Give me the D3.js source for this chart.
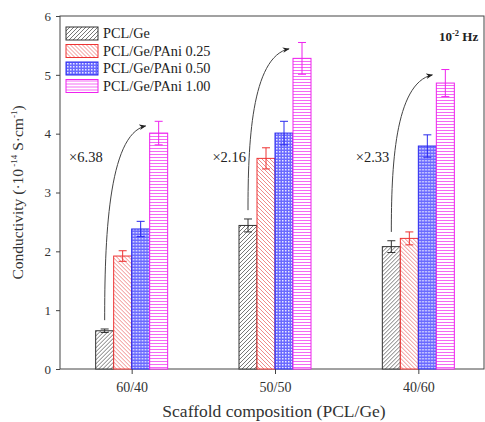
<!DOCTYPE html>
<html>
<head>
<meta charset="utf-8">
<script src="https://cdn.jsdelivr.net/npm/d3@7"></script>
<style>
  body { margin: 0; background: #fff; }
  svg text { font-family: "Liberation Serif", "Times New Roman", serif; }
</style>
</head>
<body>
<svg width="485" height="422"></svg>
<script>
// Data
const groups = ["60/40", "50/50", "40/60"];
const series = ["PCL/Ge", "PCL/Ge/PAni 0.25", "PCL/Ge/PAni 0.50", "PCL/Ge/PAni 1.00"];
const values = [
	[0.65, 1.92, 2.38, 4.01],
	[2.44, 3.58, 4.01, 5.28],
	[2.08, 2.22, 3.79, 4.86]
];
const errors = [
	[0.03, 0.09, 0.13, 0.20],
	[0.11, 0.18, 0.20, 0.27],
	[0.10, 0.11, 0.19, 0.23]
];
const folds = ["×6.38", "×2.16", "×2.33"];
const yTicks = [0, 1, 2, 3, 4, 5, 6];

const svgWidth = 485;
const svgHeight = 422;
const margins = {top: 16, right: 1, bottom: 53, left: 60};

const colors = ["#333333", "#ee3333", "#2a2aee", "#ee22ee"];
const fills = ["url(#p0)", "url(#p1)", "url(#p2)", "url(#p3)"];

const chart = d3.select("svg");

// Patterns
const defs = chart.append("defs");
const p0 = defs.append("pattern").attr("id", "p0").attr("patternUnits", "userSpaceOnUse")
	.attr("width", 4).attr("height", 4);
p0.append("rect").attr("width", 4).attr("height", 4).attr("fill", "#fff");
p0.append("path").attr("d", "M-1,1 l2,-2 M0,4 l4,-4 M3,5 l2,-2")
	.attr("stroke", "#777").attr("stroke-width", 1);

const p1 = defs.append("pattern").attr("id", "p1").attr("patternUnits", "userSpaceOnUse")
	.attr("width", 4).attr("height", 4);
p1.append("rect").attr("width", 4).attr("height", 4).attr("fill", "#fff");
p1.append("path").attr("d", "M-1,3 l2,2 M0,0 l4,4 M3,-1 l2,2")
	.attr("stroke", "#f08a8a").attr("stroke-width", 1);

const p2 = defs.append("pattern").attr("id", "p2").attr("patternUnits", "userSpaceOnUse")
	.attr("width", 3).attr("height", 3);
p2.append("rect").attr("width", 3).attr("height", 3).attr("fill", "#6a6aff");
p2.append("rect").attr("x", 1).attr("y", 1).attr("width", 1.5).attr("height", 1.5).attr("fill", "#e8e8ff");

const p3 = defs.append("pattern").attr("id", "p3").attr("patternUnits", "userSpaceOnUse")
	.attr("width", 4).attr("height", 3);
p3.append("rect").attr("width", 4).attr("height", 3).attr("fill", "#fff");
p3.append("path").attr("d", "M0,1.5 h4").attr("stroke", "#f46af4").attr("stroke-width", 1);

defs.append("marker").attr("id", "arrow")
	.attr("viewBox", "0 0 10 10").attr("refX", 9).attr("refY", 5)
	.attr("markerWidth", 7).attr("markerHeight", 7)
	.attr("markerUnits", "userSpaceOnUse")
	.attr("orient", "auto")
	.append("path").attr("d", "M0,1 L10,5 L0,9 L3,5 Z").attr("fill", "#222");

// Scales
const scaleX = d3.scalePoint()
	.domain(groups)
	.range([margins.left, 490])
	.padding(0.5);

const scaleSub = d3.scaleBand()
	.domain(series)
	.range([-36, 36]);

const scaleY = d3.scaleLinear()
	.domain([0, 6])
	.range([svgHeight - margins.bottom, margins.top]);

// Frame
chart.append("rect")
	.attr("x", margins.left).attr("y", margins.top)
	.attr("width", svgWidth - margins.right - margins.left)
	.attr("height", scaleY(0) - margins.top)
	.attr("fill", "none").attr("stroke", "#444").attr("stroke-width", 1);

// Bars
const gGroups = chart.append("g").selectAll("g")
	.data(groups)
	.join("g")
	.attr("transform", d => `translate(${scaleX(d)},0)`);

gGroups.each(function(g, gi) {
	const sel = d3.select(this);
	series.forEach((s, si) => {
		const v = values[gi][si];
		const e = errors[gi][si];
		const x = scaleSub(s);
		const w = scaleSub.bandwidth();
		sel.append("rect")
			.attr("x", x).attr("y", scaleY(v))
			.attr("width", w).attr("height", scaleY(0) - scaleY(v))
			.attr("fill", fills[si]).attr("stroke", colors[si]).attr("stroke-width", 1);
		const cx = x + w / 2;
		sel.append("path")
			.attr("d", `M${cx},${scaleY(v - e)}V${scaleY(v + e)}M${cx - 4},${scaleY(v + e)}h8M${cx - 4},${scaleY(v - e)}h8`)
			.attr("stroke", colors[si]).attr("stroke-width", 1).attr("fill", "none");
	});

	// Arrow from first to last bar
	const sx = scaleSub(series[0]) + scaleSub.bandwidth() / 2;
	const sy = scaleY(values[gi][0] + errors[gi][0] + 0.15);
	const ex = scaleSub(series[3]) - 4;
	const ey = scaleY(values[gi][3] + errors[gi][3] * 0.6);
	const path = d3.path();
	path.moveTo(sx, sy);
	path.bezierCurveTo(sx, sy - 0.4 * (sy - ey), sx + 3, ey + 8, ex, ey);
	sel.append("path")
		.attr("d", path.toString())
		.attr("fill", "none").attr("stroke", "#444").attr("stroke-width", 1)
		.attr("marker-end", "url(#arrow)");

	sel.append("text")
		.attr("x", -29).attr("y", scaleY(3.52))
		.attr("text-anchor", "end")
		.attr("font-size", 14.5).attr("fill", "#222")
		.text(folds[gi]);
});

// Y axis
chart.append("g")
	.attr("transform", `translate(${margins.left},0)`)
	.call(d3.axisLeft(scaleY).tickValues(yTicks).tickSize(4).tickPadding(5).tickFormat(d3.format("d")))
	.call(g => g.attr("font-family", null))
	.call(g => g.select(".domain").remove())
	.call(g => g.selectAll("line").attr("stroke", "#444"))
	.call(g => g.selectAll("text").attr("font-size", 13).attr("fill", "#333"));

// X axis
chart.append("g")
	.attr("transform", `translate(0,${scaleY(0)})`)
	.call(d3.axisBottom(scaleX).tickSize(5).tickPadding(8))
	.call(g => g.attr("font-family", null))
	.call(g => g.select(".domain").remove())
	.call(g => g.selectAll("line").attr("stroke", "#444"))
	.call(g => g.selectAll("text").attr("font-size", 14).attr("fill", "#333"));

// Axis titles
chart.append("text")
	.attr("x", 274).attr("y", 417)
	.attr("text-anchor", "middle").attr("font-size", 17.5).attr("fill", "#333")
	.text("Scaffold composition (PCL/Ge)");

const yTitle = chart.append("text")
	.attr("transform", `translate(23,${(margins.top + scaleY(0)) / 2}) rotate(-90)`)
	.attr("text-anchor", "middle").attr("font-size", 15.5).attr("fill", "#333");
yTitle.append("tspan").text("Conductivity (·10");
yTitle.append("tspan").attr("font-size", 9).attr("dy", -6).text(" -14");
yTitle.append("tspan").attr("dy", 6).text(" S·cm");
yTitle.append("tspan").attr("font-size", 9).attr("dy", -6).text("-1");
yTitle.append("tspan").attr("dy", 6).text(")");

// Frequency label
const hz = chart.append("text")
	.attr("x", 439).attr("y", 41)
	.attr("font-size", 13).attr("font-weight", "bold").attr("fill", "#222");
hz.append("tspan").text("10");
hz.append("tspan").attr("font-size", 8.5).attr("dy", -5).text("-2");
hz.append("tspan").attr("dy", 5).text(" Hz");

// Legend
const legend = chart.append("g")
	.selectAll("g")
	.data(series)
	.join("g")
	.attr("transform", (d, i) => `translate(66,${27 + i * 17.5})`);
legend.append("rect")
	.attr("width", 32).attr("height", 13)
	.attr("fill", (d, i) => fills[i]).attr("stroke", (d, i) => colors[i]);
legend.append("text")
	.attr("x", 37).attr("y", 11)
	.attr("font-size", 14.3).attr("fill", "#222")
	.text(d => d);
</script>
</body>
</html>
